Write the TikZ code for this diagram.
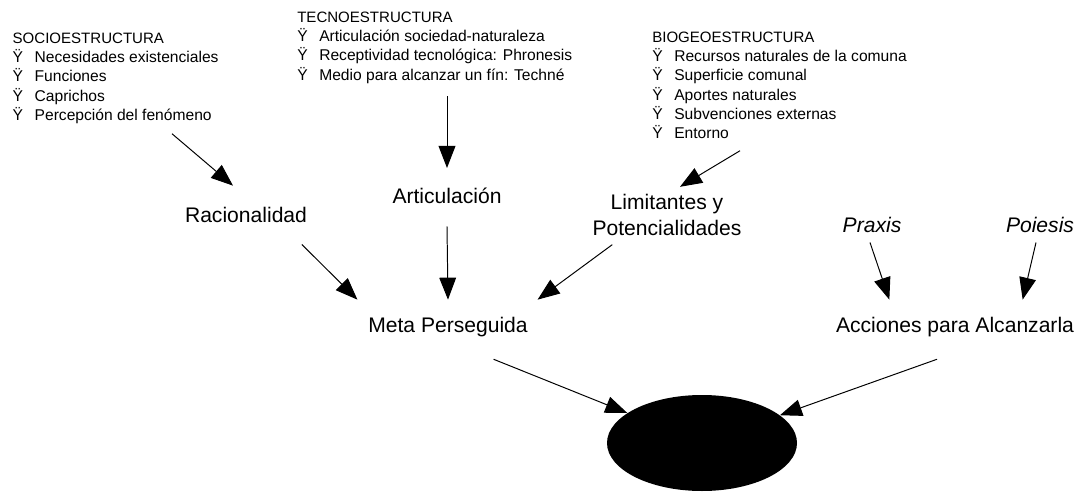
\documentclass[tikz,border=0pt]{standalone}
\usepackage{fontspec}
\setmainfont{Liberation Sans}
\usetikzlibrary{arrows.meta, shapes.geometric, positioning, calc}

\newcommand{\vineta}{\makebox[0.55cm][l]{Ÿ}}
\newcommand{\titulo}[1]{{\fontsize{10.7}{13.7}\selectfont #1}}

\tikzset{
  lista/.style={anchor=north west, align=left, inner sep=0pt, font=\fontsize{11.1}{13.7}\selectfont},
  etiqueta/.style={anchor=base, inner sep=0pt, font=\fontsize{15}{18.5}\selectfont},
  flecha/.style={-{Triangle[length=0.55cm, width=0.42cm]}, line width=0.7pt},
}

\begin{document}
\begin{tikzpicture}
    \useasboundingbox (0,0) rectangle (26.95,-12.35);

    % the three structures
    \node[lista] (socio) at (0.31,-0.815) {\titulo{SOCIOESTRUCTURA}\\
        \vineta Necesidades existenciales\\
        \vineta Funciones\\
        \vineta Caprichos\\
        \vineta Percepción del fenómeno};
    \node[lista] (tecno) at (7.425,-0.29) {\titulo{TECNOESTRUCTURA}\\
        \vineta Articulación sociedad-naturaleza\\
        \vineta Receptividad tecnológica: Phronesis\\
        \vineta Medio para alcanzar un fín: Techné};
    \node[lista] (bio) at (16.3,-0.79) {\titulo{BIOGEOESTRUCTURA}\\
        \vineta Recursos naturales de la comuna\\
        \vineta Superficie comunal\\
        \vineta Aportes naturales\\
        \vineta Subvenciones externas\\
        \vineta Entorno};

    % middle row
    \node[etiqueta] (racio) at (6.15,-5.55) {Racionalidad};
    \node[etiqueta] (artic) at (11.175,-5.075) {Articulación};
    \node[etiqueta, anchor=north, align=center] (limit) at (16.675,-4.86) {Limitantes y\\ Potencialidades};
    \node[etiqueta] (praxis) at (21.8,-5.8) {\textit{Praxis}};
    \node[etiqueta] (poiesis) at (26.0,-5.8) {\textit{Poiesis}};

    % goal and actions
    \node[etiqueta] (meta) at (11.2,-8.3) {Meta Perseguida};
    \node[etiqueta] (acciones) at (23.875,-8.3) {Acciones para Alcanzarla};
    \node[ellipse, fill=black, inner sep=0pt, minimum width=4.75cm, minimum height=2.4cm] (logro) at (17.55,-11.075) {};

    % arrows
    \draw[flecha] ([shift={(3.99,-0.245)}]socio.south west) -- ([shift={(-0.325,0.52)}]racio.north);
    \draw[flecha] ([yshift=-0.32cm]tecno.south -| artic.north) -- ([yshift=0.48cm]artic.north);
    \draw[flecha] ([shift={(2.2,-0.29)}]bio.south west) -- ([shift={(0.325,0.19)}]limit.north);
    \draw[flecha] ([shift={(-0.135,-0.55)}]racio.south east) -- ([shift={(-0.265,0.42)}]meta.north west);
    \draw[flecha] ([yshift=-0.575cm]artic.south) -- ([yshift=0.42cm]meta.north);
    \draw[flecha] ([shift={(0.5,-0.205)}]limit.south west) -- ([shift={(0.24,0.42)}]meta.north east);
    \draw[flecha] ([shift={(-0.05,-0.25)}]praxis.south) -- ([shift={(1.34,0.42)}]acciones.north west);
    \draw[flecha] ([shift={(-0.1,-0.25)}]poiesis.south) -- ([shift={(-1.29,0.42)}]acciones.north east);
    \draw[flecha] ([shift={(-0.86,-0.565)}]meta.south east) -- (logro);
    \draw[flecha] ([shift={(-0.45,-0.565)}]acciones.south) -- (logro);
\end{tikzpicture}
\end{document}
